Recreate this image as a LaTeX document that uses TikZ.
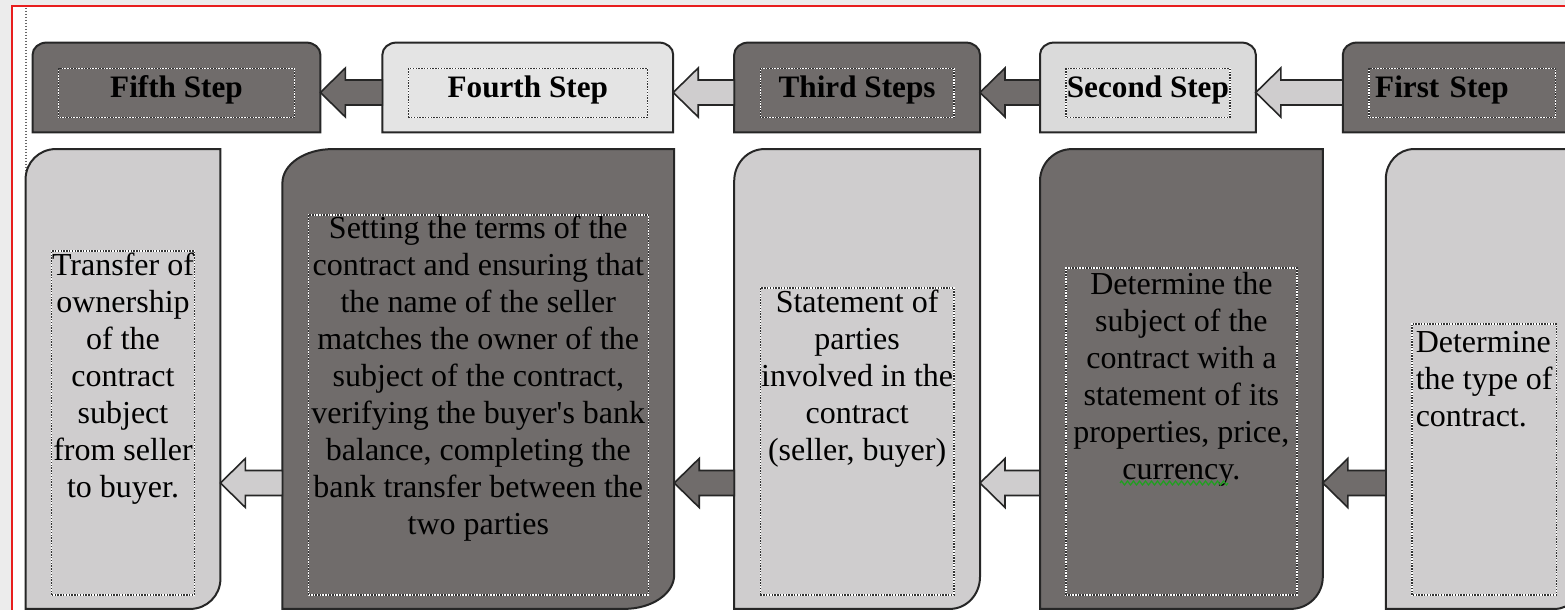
\documentclass[tikz,border=0pt]{standalone}
\usepackage{fontspec}
\setmainfont{Liberation Serif}
\usetikzlibrary{positioning,calc,backgrounds,decorations.pathmorphing}
\definecolor{stepdark}{RGB}{112,108,107}
\definecolor{steplight}{RGB}{207,205,206}
\definecolor{steppale}{RGB}{228,228,228}
\definecolor{stepgrey}{RGB}{218,218,218}
\definecolor{pagegrey}{RGB}{236,236,236}
\definecolor{wordred}{RGB}{232,30,30}
\definecolor{spellgreen}{RGB}{30,160,30}
\tikzset{
    stephead/.style={rectangle, minimum width=#1, minimum height=44.5pt, inner sep=0pt, text height=12pt, text depth=1.5pt, text=black, font=\fontsize{15.6}{18}\selectfont\bfseries},
    stepbody/.style={rectangle, minimum width=#1, minimum height=229.5pt, inner sep=0pt, align=center, text=black, font=\fontsize{16}{18.5}\selectfont},
    boxline/.style={draw=black!85, line width=1pt},
    arrowline/.style={draw=black!85, line width=0.8pt, line join=miter},
    dotline/.style={draw=white, line width=0.7pt, postaction={draw=black!80, line width=0.7pt, dash pattern=on 0.7pt off 0.7pt}},
    pageedge/.style={draw=black!60, line width=0.6pt, dash pattern=on 0.6pt off 0.9pt},
    spellmark/.style={draw=spellgreen, line width=0.6pt, decorate, decoration={zigzag, segment length=3pt, amplitude=1pt}}
}
% header box, round top corners
\newcommand{\tabshape}[2]{%
  \filldraw[boxline, fill=#2] (#1.south west) -- ($(#1.north west)+(0pt,-6pt)$)
    arc[start angle=180, end angle=90, x radius=7pt, y radius=6pt]
    -- ($(#1.north east)+(-7pt,0pt)$)
    arc[start angle=90, end angle=0, x radius=7pt, y radius=6pt]
    -- (#1.south east) -- cycle;}
% detail box, round top left and bottom right corners
\newcommand{\leafshape}[4]{%
  \filldraw[boxline, fill=#2] (#1.south west) -- ($(#1.north west)+(0pt,-#4)$)
    arc[start angle=180, end angle=90, x radius=#3, y radius=#4]
    -- (#1.north east) -- ($(#1.south east)+(0pt,#4)$)
    arc[start angle=0, end angle=-90, x radius=#3, y radius=#4]
    -- cycle;}
% block arrow from #2 to #3, shifted by #4
\newcommand{\blockarrow}[4]{%
  \filldraw[arrowline, fill=#1] ($(#3.east)+(0pt,#4)$) coordinate (tip)
    -- ++(12.5pt,12.25pt) -- ++(0pt,-6pt)
    -- ($(#2.west)+(0pt,#4+6.25pt)$) -- ($(#2.west)+(0pt,#4-6.25pt)$)
    -- ($(tip)+(12.5pt,-6.25pt)$) -- ++(0pt,-6pt) -- cycle;}
% text frame inside a box
\newcommand{\dotframe}[3]{%
  \draw[dotline] ($(#1.south west)+(13pt,#3)$) rectangle ($(#1.north east)+(-13pt,-#2)$);}

\begin{document}
\begin{tikzpicture}[x=0.5pt, y=0.5pt]
    \useasboundingbox (0,0) rectangle (1565,610);

    % step titles
    \node [stephead=143.5pt] (h5) at (176.5,522.5) {Fifth Step};
    \node [stephead=145pt, right=31pt of h5] (h4) {Fourth Step};
    \node [stephead=122.5pt, right=30.5pt of h4] (h3) {Third Steps};
    \node [stephead=107.5pt, right=30pt of h3] (h2) {Second Step};
    \node [stephead=119pt, right=43.5pt of h2, text width=87pt, align=left, inner xsep=16pt] (h1) {First Step};

    % step details
    \node [stepbody=97pt] (s5) at (123,231) {Transfer of\\ ownership\\ of the\\ contract\\ subject\\ from seller\\ to buyer.};
    \node [stepbody=195.5pt, right=31pt of s5] (s4) {Setting the terms of the\\ contract and ensuring that\\ the name of the seller\\ matches the owner of the\\ subject of the contract,\\ verifying the buyer\textquotesingle s bank\\ balance, completing the\\ bank transfer between the\\ two parties};
    \node [stepbody=122.5pt, right=30pt of s4] (s3) {Statement of\\ parties\\ involved in the\\ contract\\ (seller, buyer)};
    \node [stepbody=141pt, right=30pt of s3] (s2) {Determine the\\ subject of the\\ contract with a\\ statement of its\\ properties, price,\\ currency.};
    \node [stepbody=98pt, right=31.5pt of s2, align=left] (s1) {Determine\\ the type of\\ contract.};

    \begin{scope}[on background layer]
        \fill [pagegrey] (0,0) rectangle (1565,610);
        \fill [white] (12,0) rectangle (1565,604);
        \draw [wordred, line width=0.6pt] (12,0) -- (12,604) -- (1565,604);
        \draw [pageedge] (26,602) -- (26,3);
        \tabshape{h5}{stepdark}
        \tabshape{h4}{steppale}
        \tabshape{h3}{stepdark}
        \tabshape{h2}{stepgrey}
        \tabshape{h1}{stepdark}
        \leafshape{s5}{steplight}{15pt}{15pt}
        \leafshape{s4}{stepdark}{25pt}{17pt}
        \leafshape{s3}{steplight}{15pt}{16pt}
        \leafshape{s2}{stepdark}{16pt}{16pt}
        \leafshape{s1}{steplight}{14pt}{15pt}
    \end{scope}

    \blockarrow{stepdark}{h4}{h5}{-2.5pt}
    \blockarrow{steplight}{h3}{h4}{-2.5pt}
    \blockarrow{stepdark}{h2}{h3}{-2.5pt}
    \blockarrow{steplight}{h1}{h2}{-2.5pt}
    \blockarrow{steplight}{s4}{s5}{-52pt}
    \blockarrow{stepdark}{s3}{s4}{-52pt}
    \blockarrow{steplight}{s2}{s3}{-52pt}
    \blockarrow{stepdark}{s1}{s2}{-52pt}

    \foreach \n in {h5,h4,h3,h2,h1}
        \dotframe{\n}{13pt}{7.5pt};
    \dotframe{s5}{51pt}{7pt}
    \dotframe{s4}{33pt}{7pt}
    \dotframe{s3}{69.5pt}{7pt}
    \dotframe{s2}{59.5pt}{7pt}
    \dotframe{s1}{87.5pt}{7pt}

    \draw [spellmark] (1120,127) -- (1228,127);
\end{tikzpicture}
\end{document}
